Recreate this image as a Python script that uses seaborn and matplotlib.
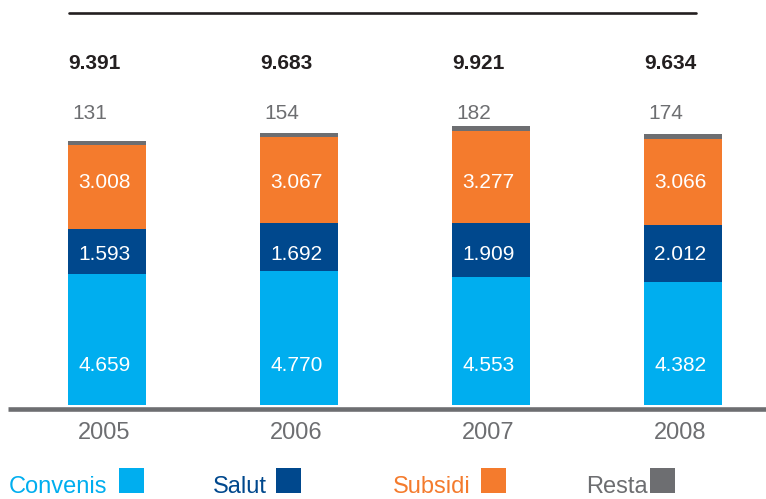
import numpy as np
import pandas as pd
import matplotlib
matplotlib.use("Agg")
import matplotlib.pyplot as plt
import matplotlib.transforms as mtransforms
from matplotlib.patches import Rectangle
from matplotlib.lines import Line2D
import seaborn as sns

# ---- data ----
years = ["2005", "2006", "2007", "2008"]
convenis = [4659, 4770, 4553, 4382]
salut = [1593, 1692, 1909, 2012]
subsidi = [3008, 3067, 3277, 3066]
resta = [131, 154, 182, 174]
series_names = ["Convenis", "Salut", "Subsidi", "Resta"]
colors = ["#00AEEF", "#00488D", "#F47B2D", "#6D6E71"]


def fmt(v):
    return f"{v:,}".replace(",", ".")


sns.set_theme(style="white")
plt.rcParams["font.family"] = ["Liberation Sans", "DejaVu Sans"]

W, H = 766, 499
fig = plt.figure(figsize=(W / 100, H / 100), dpi=100)
ax = fig.add_axes([0, 0, 1, 1])

# pixel mapping
PX_PER_UNIT = 0.0281
BASE_Y = 405
X0, DX = 107, 192

stack = np.array([convenis, salut, subsidi, resta], dtype=float)
cum = np.cumsum(stack, axis=0)
totals = cum[-1]

df = pd.DataFrame({"year": years})
for i in range(3, -1, -1):
    df["h"] = cum[i]
    sns.barplot(data=df, x="year", y="h", order=years, color=colors[i],
                saturation=1, width=78 / DX, edgecolor="none", linewidth=0,
                ax=ax, errorbar=None)

ax.set_xlim(-X0 / DX, (W - X0) / DX)
ax.set_ylim((BASE_Y - H) / PX_PER_UNIT, BASE_Y / PX_PER_UNIT)
ax.axis("off")


def ypx(y):
    return 1 - y / H


tr = mtransforms.blended_transform_factory(ax.transData, fig.transFigure)
half = 39 / DX
off = -2.5 / DX

for i, yr in enumerate(years):
    # total (bold)
    ax.text(i - half, ypx(69), fmt(int(totals[i])), transform=tr, ha="left",
            va="baseline", fontsize=15, fontweight="bold", color="#231F20")
    # resta value (grey)
    ax.text(i - half + 4 / DX, ypx(119), fmt(resta[i]), transform=tr,
            ha="left", va="baseline", fontsize=15, color="#6D6E71")
    # inner labels
    ax.text(i + off, ypx(188.5), fmt(subsidi[i]), transform=tr, ha="center",
            va="baseline", fontsize=15, color="white")
    ax.text(i + off, ypx(260), fmt(salut[i]), transform=tr, ha="center",
            va="baseline", fontsize=15, color="white")
    ax.text(i + off, ypx(370.7), fmt(convenis[i]), transform=tr, ha="center",
            va="baseline", fontsize=15, color="white")
    # year
    ax.text(i + off, ypx(439), yr, transform=tr, ha="center",
            va="baseline", fontsize=17, color="#6D6E71")

# top rule and baseline
fig.add_artist(Line2D([69 / W, 696 / W], [ypx(12.7), ypx(12.7)],
                      transform=fig.transFigure, color="#231F20", lw=1.9))
fig.add_artist(Line2D([8 / W, 1], [ypx(408.7), ypx(408.7)],
                      transform=fig.transFigure, color="#6D6E71", lw=3.3,
                      solid_capstyle="butt"))

# legend (text then square)
LEG_BASE = 493
leg_text_x = [9, 213, 393, 586]
leg_box_x = [119, 276, 481, 650]
for name, c, tx, bx in zip(series_names, colors, leg_text_x, leg_box_x):
    fig.text(tx / W, ypx(LEG_BASE), name, ha="left", va="baseline",
             fontsize=17, color=c)
    fig.add_artist(Rectangle((bx / W, ypx(LEG_BASE)), 25 / W, 25 / H,
                             transform=fig.transFigure, facecolor=c,
                             edgecolor="none"))

fig.savefig("out.png", dpi=100)
